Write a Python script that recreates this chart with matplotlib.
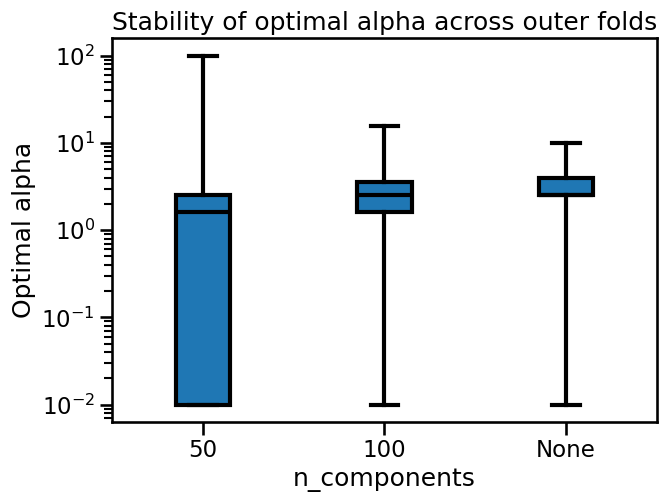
import matplotlib
matplotlib.use('Agg')
import matplotlib.pyplot as plt
import seaborn as sns

sns.set_context('talk')

# box stats (log scale)
labels = ['50', '100', 'None']
whislo = [0.01, 0.01, 0.01]
q1 = [0.01, 1.6, 2.5]
med = [1.6, 2.5, 2.5]
q3 = [2.5, 3.6, 4.0]
whishi = [100, 15.8, 10]

stats = [dict(label=l, whislo=a, q1=b, med=c, q3=d, whishi=e, fliers=[])
         for l, a, b, c, d, e in zip(labels, whislo, q1, med, q3, whishi)]

fig, ax = plt.subplots(figsize=(6.64, 5.03), dpi=100)
lw = 3
ax.bxp(stats, widths=0.3, patch_artist=True, showfliers=False,
       boxprops=dict(facecolor='#1f77b4', edgecolor='black', linewidth=lw),
       medianprops=dict(color='black', linewidth=lw),
       whiskerprops=dict(color='black', linewidth=lw),
       capprops=dict(color='black', linewidth=lw))
ax.set_yscale('log')
ax.set_xlabel('n_components')
ax.set_ylabel('Optimal alpha')
ax.set_title('Stability of optimal alpha across outer folds')
fig.subplots_adjust(left=0.169, right=0.989, top=0.924, bottom=0.161)
fig.savefig('out.png')
